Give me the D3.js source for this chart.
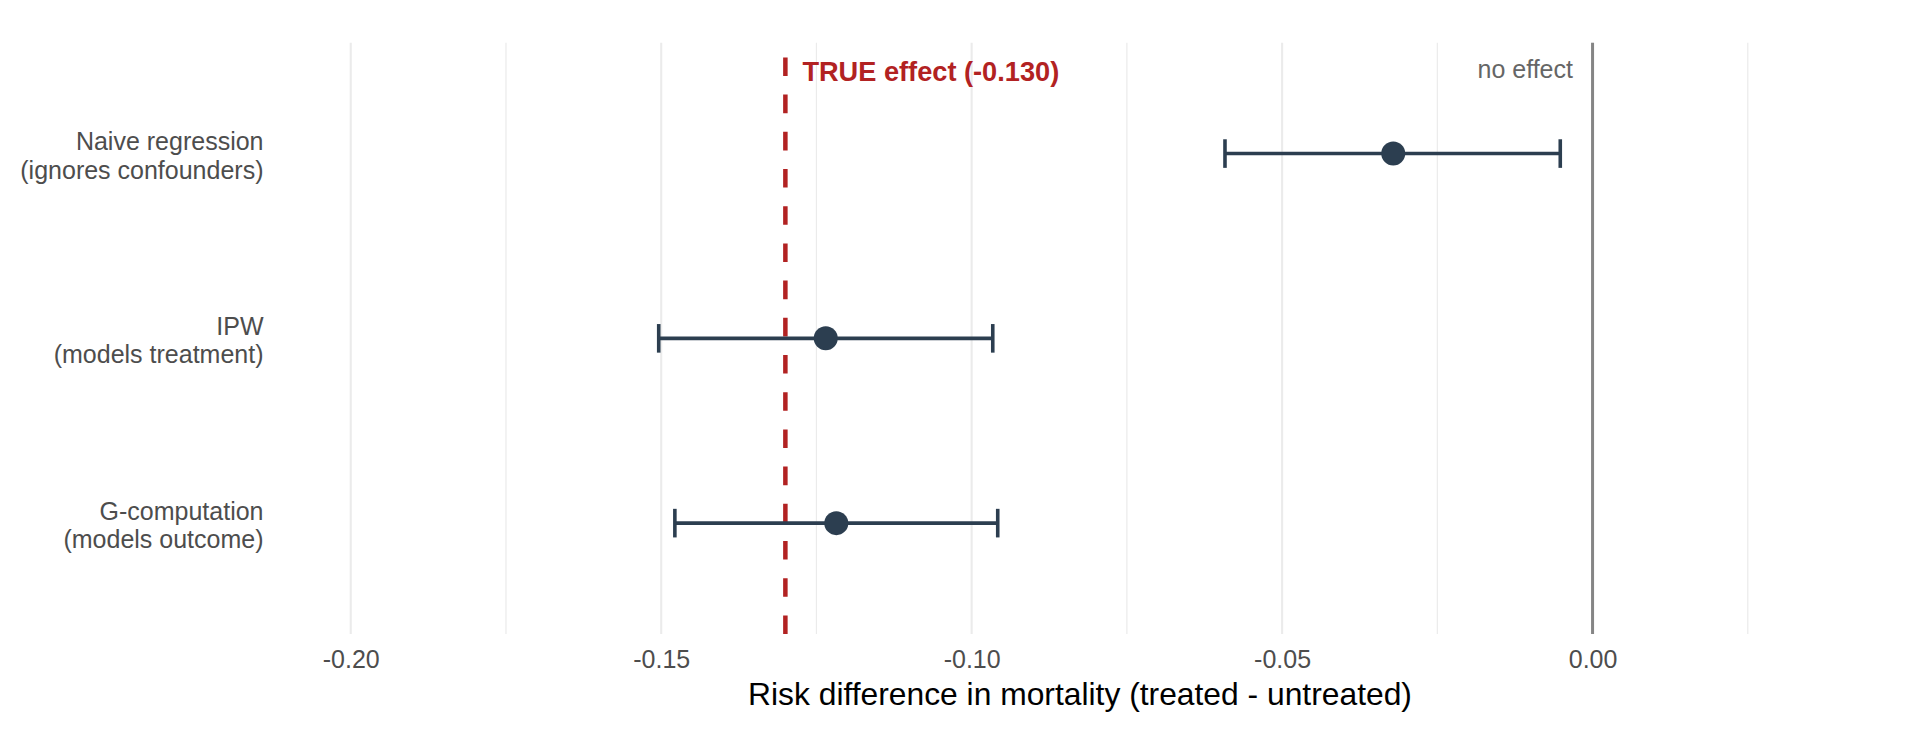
<!DOCTYPE html>
<html>
<head>
<meta charset="utf-8">
<script src="https://cdn.jsdelivr.net/npm/d3@7"></script>
<style>
  html, body { margin: 0; padding: 0; background: #fff; }
  svg { display: block; font-family: "Liberation Sans", Arial, Helvetica, sans-serif; }
</style>
</head>
<body>
<svg id="chart" width="1920" height="729"></svg>
<script>
// methods, top to bottom
var methods = ["Naive regression\n(ignores confounders)", "IPW\n(models treatment)", "G-computation\n(models outcome)"],
    estimates = [-0.0321, -0.1235, -0.1218],
    lower = [-0.0592, -0.1504, -0.1478],
    upper = [-0.0052, -0.0966, -0.0958],
    trueEffect = -0.130,
    majorTicks = [-0.20, -0.15, -0.10, -0.05, 0.00],
    minorTicks = [-0.175, -0.125, -0.075, -0.025, 0.025],
    trueLabel = "TRUE effect (-0.130)",
    nullLabel = "no effect",
    xTitle = "Risk difference in mortality (treated - untreated)";

var svg = d3.select("#chart"),
    panel = { left: 275, right: 1885, top: 42.7, bottom: 634 },
    navy = "#2C3E50",
    red = "#B22222";

var x = d3.scaleLinear()
    .domain([-0.2122, 0.0471])
    .range([panel.left, panel.right]);

var y = d3.scalePoint()
    .domain(methods)
    .range([panel.top, panel.bottom])
    .padding(0.6);

var rows = methods.map(function (m, i) {
    return { method: m, est: estimates[i], lo: lower[i], hi: upper[i] };
});

// grid lines
svg.append("g").selectAll("line")
    .data(minorTicks)
    .join("line")
    .attr("x1", function (d) { return x(d); })
    .attr("x2", function (d) { return x(d); })
    .attr("y1", panel.top)
    .attr("y2", panel.bottom)
    .attr("stroke", "#EBEBEB")
    .attr("stroke-width", 1.2);

svg.append("g").selectAll("line")
    .data(majorTicks)
    .join("line")
    .attr("x1", function (d) { return x(d); })
    .attr("x2", function (d) { return x(d); })
    .attr("y1", panel.top)
    .attr("y2", panel.bottom)
    .attr("stroke", "#EBEBEB")
    .attr("stroke-width", 2.1);

// no effect line
svg.append("line")
    .attr("x1", x(0)).attr("x2", x(0))
    .attr("y1", panel.top).attr("y2", panel.bottom)
    .attr("stroke", "#858585")
    .attr("stroke-width", 3);

// true effect, dashed (pattern starts from the bottom)
svg.append("line")
    .attr("x1", x(trueEffect)).attr("x2", x(trueEffect))
    .attr("y1", panel.bottom).attr("y2", panel.top)
    .attr("stroke", red)
    .attr("stroke-width", 4.5)
    .attr("stroke-dasharray", "18.6 18.6");

// error bars
var bars = svg.append("g").selectAll("g")
    .data(rows)
    .join("g");

bars.append("line")
    .attr("x1", function (d) { return x(d.lo); })
    .attr("x2", function (d) { return x(d.hi); })
    .attr("y1", function (d) { return y(d.method); })
    .attr("y2", function (d) { return y(d.method); })
    .attr("stroke", navy)
    .attr("stroke-width", 3.6);

bars.selectAll("line.cap")
    .data(function (d) { return [{ v: d.lo, m: d.method }, { v: d.hi, m: d.method }]; })
    .join("line")
    .attr("class", "cap")
    .attr("x1", function (d) { return x(d.v); })
    .attr("x2", function (d) { return x(d.v); })
    .attr("y1", function (d) { return y(d.m) - 14.3; })
    .attr("y2", function (d) { return y(d.m) + 14.3; })
    .attr("stroke", navy)
    .attr("stroke-width", 3.6);

bars.append("circle")
    .attr("cx", function (d) { return x(d.est); })
    .attr("cy", function (d) { return y(d.method); })
    .attr("r", 12)
    .attr("fill", navy);

// annotations
svg.append("text")
    .attr("x", x(trueEffect) + 17)
    .attr("y", 80.7)
    .attr("fill", red)
    .attr("font-size", 27.2)
    .attr("font-weight", "bold")
    .text(trueLabel);

svg.append("text")
    .attr("x", x(0) - 19.6)
    .attr("y", 78)
    .attr("text-anchor", "end")
    .attr("fill", "#666666")
    .attr("font-size", 25)
    .text(nullLabel);

// x axis
var xAxis = svg.append("g")
    .attr("transform", "translate(0," + panel.bottom + ")")
    .call(d3.axisBottom(x).tickValues(majorTicks).tickSize(0).tickPadding(0)
        .tickFormat(d3.format(".2f")));
xAxis.select(".domain").remove();
xAxis.selectAll("text")
    .attr("dy", null)
    .attr("y", 34.3)
    .attr("fill", "#4D4D4D")
    .attr("font-size", 25)
    .attr("font-family", null)
    .text(function (d) { return d3.format(".2f")(d).replace("−", "-"); });

svg.append("text")
    .attr("x", 1080)
    .attr("y", 705)
    .attr("text-anchor", "middle")
    .attr("fill", "#000")
    .attr("font-size", 31.8)
    .text(xTitle);

// y axis, two-line labels
var yAxis = svg.append("g")
    .attr("transform", "translate(263.5,0)")
    .call(d3.axisLeft(y).tickSize(0).tickPadding(0));
yAxis.select(".domain").remove();
yAxis.selectAll("text")
    .attr("dy", null)
    .attr("x", 0)
    .attr("fill", "#4D4D4D")
    .attr("font-size", 25)
    .attr("font-family", null)
    .text(null)
    .each(function (d) {
        var t = d3.select(this);
        d.split("\n").forEach(function (line, i) {
            t.append("tspan")
                .attr("x", 0)
                .attr("y", i === 0 ? -4 : 24.5)
                .text(line);
        });
    });
</script>
</body>
</html>
